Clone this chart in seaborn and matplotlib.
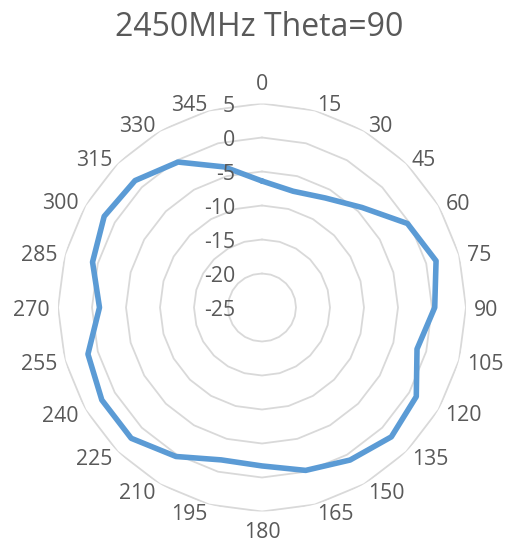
import numpy as np
import pandas as pd
import matplotlib
matplotlib.use("Agg")
import matplotlib.pyplot as plt
import seaborn as sns

# ---- data ----
angles_deg = [0, 15, 30, 45, 60, 75, 90, 105, 120, 135, 150, 165,
              180, 195, 210, 225, 240, 255, 270, 285, 300, 315, 330, 345]
gain_db = [-6.4, -7.3, -6.4, -4.2, -0.3, 1.5, 0.4, -1.4, 1.2, 1.9, 0.9, -0.2,
           -1.7, -1.8, 0.3, 2.2, 2.2, 1.5, -1.1, 0.8, 1.8, 1.4, -0.3, -3.6]
ring_values = [-25, -20, -15, -10, -5, 0, 5]
title_text = "2450MHz Theta=90"

sns.set_theme(style="white")
plt.rcParams['font.family'] = ['Open Sans', 'DejaVu Sans']

TXT = "#595959"
GRID = "#d9d9d9"
LINE = "#5B9BD5"

fig = plt.figure(figsize=(5.06, 5.46), dpi=100)
fig.patch.set_facecolor("white")
W, H = 506, 546
cx, cy, R = 262, 307.5, 204
ax = fig.add_axes([(cx - R) / W, (H - cy - R) / H, 2 * R / W, 2 * R / H],
                  projection="polar")
ax.set_theta_zero_location("N")
ax.set_theta_direction(-1)
ax.set_ylim(ring_values[0], ring_values[-1])
ax.grid(False)
ax.spines["polar"].set_visible(False)
ax.set_xticks([])
ax.set_yticks([])
ax.set_facecolor("none")

theta = np.deg2rad(angles_deg)
theta_closed = np.append(theta, theta[0])

# polygonal gridlines
for rv in ring_values[1:]:
    ax.plot(theta_closed, [rv] * len(theta_closed), color=GRID, lw=1.3,
            zorder=1, solid_joinstyle="miter")

# data line through seaborn (closed loop)
df = pd.DataFrame({"theta": theta_closed,
                   "gain": np.append(gain_db, gain_db[0])})
sns.lineplot(data=df, x="theta", y="gain", sort=False, estimator=None, ax=ax,
             color=LINE, lw=4.0, zorder=3, solid_joinstyle="round",
             solid_capstyle="round")
ax.set_xlabel("")
ax.set_ylabel("")

# category labels, anchored just outside the outer ring vertex (Excel style)
px2pt = 72 / 100
gap = 8
for t, a in zip(theta, angles_deg):
    s, c = np.sin(t), np.cos(t)
    if abs(s) < 0.1:
        ha = "center"
        va = "bottom" if c > 0 else "top"
        g = gap + (0 if c > 0 else 3)
    else:
        ha = "left" if s > 0 else "right"
        va = "center_baseline"
        g = gap
    ax.annotate(str(a), xy=(t, ring_values[-1]),
                xytext=(g * s * px2pt, g * c * px2pt),
                textcoords="offset points", ha=ha, va=va, fontsize=15.3,
                color=TXT, annotation_clip=False)

# radial value labels
for rv in ring_values:
    ax.annotate(str(rv), xy=(0, rv), xytext=(-19.5, 0),
                textcoords="offset points", ha="right", va="center_baseline",
                fontsize=15.3, color=TXT, annotation_clip=False)

fig.text(259 / W, 1 - 27 / H, title_text, ha="center", va="center",
         fontsize=23, color=TXT)

fig.savefig("out.png", dpi=100, facecolor="white")
